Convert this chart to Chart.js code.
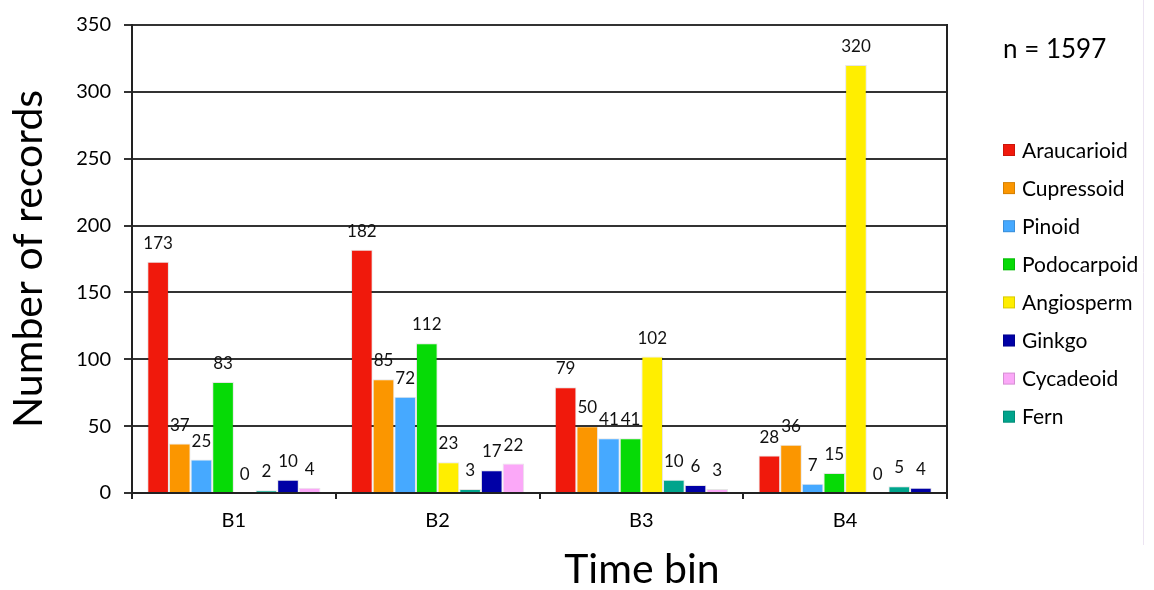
<!DOCTYPE html>
<html>
<head>
<meta charset="utf-8">
<script src="https://cdn.jsdelivr.net/npm/chart.js@4.4.1/dist/chart.umd.min.js"></script>
<style>
  html, body { margin: 0; padding: 0; background: #fff; }
  #wrap { width: 1154px; height: 590px; position: relative; }
</style>
</head>
<body>
<div id="wrap"><canvas id="c" width="1154" height="590"></canvas></div>
<script>
// Record counts per time bin, one array per plant group
const bins = ['B1', 'B2', 'B3', 'B4'];
const taxa = ['Araucarioid', 'Cupressoid', 'Pinoid', 'Podocarpoid', 'Angiosperm', 'Ginkgo', 'Cycadeoid', 'Fern'];
const taxonColors = ['#F0190C', '#FB9600', '#46A9FF', '#06DA06', '#FFEE00', '#0000A6', '#FBA8F8', '#00A48C'];

const araucarioid = [173, 182, 79, 28];
const cupressoid  = [37, 85, 50, 36];
const pinoid      = [25, 72, 41, 7];
const podocarpoid = [83, 112, 41, 15];
const angiosperm  = [0, 23, 102, 320];
const ginkgo      = [10, 17, 6, 4];
const cycadeoid   = [4, 22, 3, 0];
const fern        = [2, 3, 10, 5];
const counts = [araucarioid, cupressoid, pinoid, podocarpoid, angiosperm, ginkgo, cycadeoid, fern];

const yTicks = [0, 50, 100, 150, 200, 250, 300, 350];
const totalLabel = 'n = 1597';
const yTitle = 'Number of records';
const xTitle = 'Time bin';

// Order of the bars inside each bin (indices into taxa)
const binOrder = [
  [0, 1, 2, 3, 4, 7, 5, 6],
  [0, 1, 2, 3, 4, 7, 5, 6],
  [0, 1, 2, 3, 4, 7, 5, 6],
  [0, 1, 2, 3, 4, 6, 7, 5]
];

const FONT = 'Lato, Carlito, "Open Sans", sans-serif';

// One dataset per bar slot; each bar takes its group's value and colour
const datasets = binOrder[0].map((_, slot) => ({
  label: 'slot' + slot,
  data: bins.map((b, i) => counts[binOrder[i][slot]][i]),
  backgroundColor: bins.map((b, i) => taxonColors[binOrder[i][slot]]),
  borderColor: 'rgba(0,0,0,0.10)',
  borderWidth: 1,
  borderSkipped: 'bottom',
  categoryPercentage: 0.85,
  barPercentage: 1.0
}));

const decor = {
  id: 'decor',
  afterDatasetsDraw(chart) {
    const ctx = chart.ctx;
    ctx.save();
    ctx.font = '17px ' + FONT;
    ctx.fillStyle = '#111';
    ctx.textAlign = 'center';
    ctx.textBaseline = 'alphabetic';
    chart.data.datasets.forEach((ds, di) => {
      const meta = chart.getDatasetMeta(di);
      meta.data.forEach((bar, i) => {
        ctx.fillText(String(ds.data[i]), bar.x, bar.y - 13);
      });
    });
    ctx.restore();
  },
  afterDraw(chart) {
    const ctx = chart.ctx;
    const a = chart.chartArea;
    ctx.save();
    // right frame edge
    ctx.strokeStyle = '#222';
    ctx.lineWidth = 2;
    ctx.beginPath();
    ctx.moveTo(Math.round(a.right), a.top - 1);
    ctx.lineTo(Math.round(a.right), a.bottom + 6);
    ctx.stroke();

    // faint page edge line
    ctx.lineWidth = 1;
    ctx.strokeStyle = '#ece4f2';
    ctx.beginPath();
    ctx.moveTo(1143.5, 0);
    ctx.lineTo(1143.5, 545);
    ctx.stroke();

    // axis titles
    ctx.fillStyle = '#000';
    ctx.font = '41px ' + FONT;
    ctx.textAlign = 'center';
    ctx.textBaseline = 'middle';
    ctx.fillText(xTitle, 642, 570);
    ctx.save();
    ctx.translate(29, (a.top + a.bottom) / 2);
    ctx.rotate(-Math.PI / 2);
    ctx.fillText(yTitle, 0, 0);
    ctx.restore();

    // total count
    ctx.font = '26px ' + FONT;
    ctx.textAlign = 'left';
    ctx.fillText(totalLabel, 1003, 50);

    // legend
    ctx.font = '21px ' + FONT;
    taxa.forEach((t, i) => {
      const y = 150 + i * 38.1;
      ctx.fillStyle = taxonColors[i];
      ctx.fillRect(1003, y - 6, 12, 12);
      ctx.strokeStyle = 'rgba(0,0,0,0.15)';
      ctx.strokeRect(1003.5, y - 5.5, 11, 11);
      ctx.fillStyle = '#000';
      ctx.fillText(t, 1022, y + 1);
    });
    ctx.restore();
  }
};

new Chart(document.getElementById('c'), {
  type: 'bar',
  data: { labels: bins, datasets },
  options: {
    responsive: false,
    devicePixelRatio: 1,
    animation: false,
    layout: { padding: { top: 20, right: 207, left: 0, bottom: 0 } },
    plugins: { legend: { display: false }, tooltip: { enabled: false } },
    scales: {
      x: {
        grid: { offset: true, drawOnChartArea: false, drawTicks: true, tickLength: 6, color: '#222', lineWidth: 2 },
        border: { color: '#222', width: 2 },
        ticks: { font: { family: FONT, size: 20 }, color: '#000', padding: 10 },
        afterFit: s => { s.height = 97; }
      },
      y: {
        min: 0,
        max: 350,
        afterBuildTicks: s => { s.ticks = yTicks.map(v => ({ value: v })); },
        grid: { color: '#333', lineWidth: 2, tickLength: 8, drawTicks: true },
        border: { color: '#222', width: 2 },
        ticks: { font: { family: FONT, size: 20 }, color: '#000', padding: 13 },
        afterFit: s => { s.width = 132; }
      }
    }
  },
  plugins: [decor]
});
</script>
</body>
</html>
